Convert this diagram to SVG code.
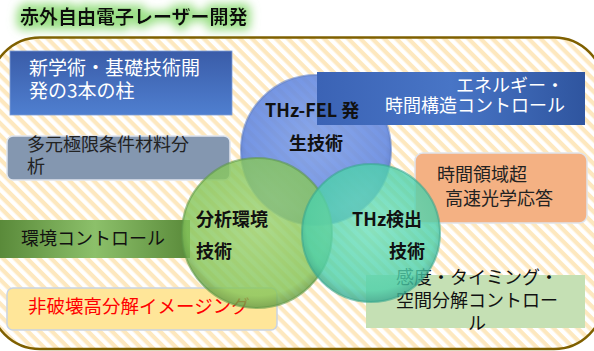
<svg xmlns="http://www.w3.org/2000/svg" width="594" height="351" viewBox="0 0 594 351">
<style>
text{font-family:"Noto Sans CJK JP","Noto Sans",sans-serif}
.t18{font-size:18px}
.b{font-weight:bold;font-size:18px;fill:#111}
.w{fill:#fff}
.k{fill:#222}
</style>
<defs>
<pattern id="stripes" patternUnits="userSpaceOnUse" width="8.5" height="8.5" patternTransform="rotate(45)">
<rect width="8.5" height="8.5" fill="#fff"/>
<rect width="8.5" height="4.2" fill="#fde8bf"/>
</pattern>
<filter id="glow" x="-20%" y="-100%" width="140%" height="300%">
<feMorphology in="SourceAlpha" operator="dilate" radius="4" result="d"/>
<feGaussianBlur in="d" stdDeviation="5" result="bl"/>
<feFlood flood-color="#8fdc78" flood-opacity="0.9"/>
<feComposite in2="bl" operator="in" result="g"/>
<feMerge><feMergeNode in="g"/><feMergeNode in="SourceGraphic"/></feMerge>
</filter>
<linearGradient id="gBlueV" x1="0" y1="0" x2="0" y2="1">
<stop offset="0" stop-color="#3a5ca8"/><stop offset="1" stop-color="#4f7fd0"/>
</linearGradient>
<linearGradient id="gBlueH" x1="0" y1="0" x2="1" y2="0">
<stop offset="0" stop-color="#3b63b5"/><stop offset="0.5" stop-color="#4875c6"/><stop offset="1" stop-color="#2f559f"/>
</linearGradient>
<linearGradient id="gGreenH" x1="0" y1="0" x2="1" y2="0">
<stop offset="0" stop-color="#5a8a3a"/><stop offset="0.5" stop-color="#8cc06a"/><stop offset="1" stop-color="#5a8a3a"/>
</linearGradient>
<radialGradient id="cBlue" cx="0.5" cy="0.45" r="0.55">
<stop offset="0" stop-color="#7a9ce8"/><stop offset="0.85" stop-color="#6287e0"/><stop offset="1" stop-color="#4a6ec4"/>
</radialGradient>
<radialGradient id="cGreen" cx="0.5" cy="0.45" r="0.55">
<stop offset="0" stop-color="#9ad272"/><stop offset="0.85" stop-color="#86c65c"/><stop offset="1" stop-color="#649a44"/>
</radialGradient>
<radialGradient id="cTeal" cx="0.5" cy="0.45" r="0.55">
<stop offset="0" stop-color="#6ee0bc"/><stop offset="0.85" stop-color="#4cd0aa"/><stop offset="1" stop-color="#38a890"/>
</radialGradient>
</defs>

<g id="frame">
<rect x="-10" y="37.5" width="614" height="311.5" rx="50" fill="url(#stripes)" stroke="#7f6000" stroke-width="2.5"/>
</g>

<g id="title">
<text x="20" y="24" filter="url(#glow)" style="font-size:19px;font-weight:bold;fill:#111">赤外自由電子レーザー開発</text>
</g>

<g id="node-pillars">
<rect x="10" y="51" width="222" height="64" fill="url(#gBlueV)" stroke="#7f9fd8" stroke-width="0.8"/>
<text class="w" x="29" y="75" style="font-size:19px">新学術・基礎技術開</text>
<text class="w" x="29" y="98" style="font-size:19px">発の3本の柱</text>
</g>

<g id="node-materials">
<rect x="7" y="136" width="223" height="44" rx="6" fill="#8497b0" stroke="#dfe5ee" stroke-width="1.5"/>
<text class="t18 k" x="27" y="151">多元極限条件材料分</text>
<text class="t18 k" x="27" y="173">析</text>
</g>

<g id="node-environment">
<rect x="0" y="220" width="190" height="38" fill="url(#gGreenH)"/>
<text class="t18" x="21" y="245" fill="#111">環境コントロール</text>
</g>

<g id="node-imaging">
<rect x="7" y="288" width="270" height="42" rx="6" fill="#ffe699" stroke="#c9d3e3" stroke-width="1.5"/>
<text x="28" y="313" fill="#ff0000" style="font-size:18.5px">非破壊高分解イメージング</text>
</g>

<g id="node-ultrafast">
<rect x="415" y="153" width="172" height="70" rx="8" fill="#f4b183" stroke="#dfe3ea" stroke-width="1.5"/>
<text class="t18 k" x="437" y="181">時間領域超</text>
<text class="t18 k" x="445" y="205">高速光学応答</text>
</g>

<g id="node-timing">
<rect x="366" y="275" width="219" height="53" fill="#c5e0b4"/>
<text class="t18" x="477" y="284" text-anchor="middle" fill="#111">感度・タイミング・</text>
<text class="t18" x="477" y="307" text-anchor="middle" fill="#111">空間分解コントロー</text>
<text class="t18" x="477" y="330" text-anchor="middle" fill="#111">ル</text>
</g>

<g id="node-fel">
<circle cx="316" cy="150" r="75" fill="url(#cBlue)" fill-opacity="0.88" stroke="#5f7fc8" stroke-width="2" stroke-opacity="0.6"/>
</g>

<g id="node-energy">
<rect x="317" y="72" width="268" height="53" fill="url(#gBlueH)"/>
<text class="t18 w" x="564" y="92" text-anchor="end">エネルギー・</text>
<text class="t18 w" x="565" y="112" text-anchor="end">時間構造コントロール</text>
</g>

<g id="node-analysis">
<circle cx="257" cy="233" r="75" fill="url(#cGreen)" fill-opacity="0.82" stroke="#5f9a48" stroke-width="2" stroke-opacity="0.6"/>
</g>

<g id="node-detection">
<circle cx="371" cy="233" r="69" fill="url(#cTeal)" fill-opacity="0.8" stroke="#3aa890" stroke-width="2" stroke-opacity="0.6"/>
</g>

<g id="circle-labels">
<text class="b" x="265" y="117">THz-FEL 発</text>
<text class="b" x="289" y="150">生技術</text>
<text class="b" x="196" y="226">分析環境</text>
<text class="b" x="196" y="258">技術</text>
<text class="b" x="352" y="226">THz検出</text>
<text class="b" x="389" y="258">技術</text>
</g>

<g id="connectors"/>
</svg>
